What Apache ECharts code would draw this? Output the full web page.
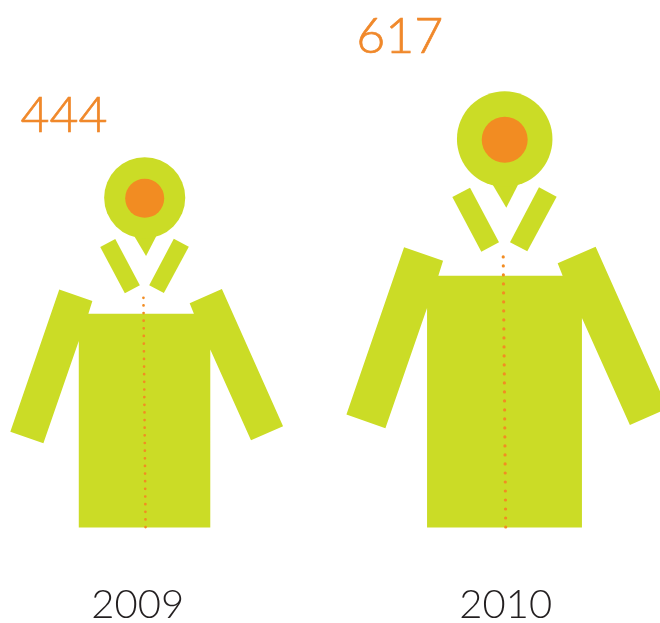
<!DOCTYPE html>
<html>
<head>
<meta charset="utf-8">
<title>2009 - 2010</title>
<script src="https://cdn.jsdelivr.net/npm/echarts@6/dist/echarts.min.js"></script>
<style>
html, body { margin: 0; padding: 0; background: #fff; overflow: hidden; }
#main { width: 660px; height: 623px; }
</style>
</head>
<body>
<div id="main"></div>
<script>
var years = ["2009", "2010"];
var values = [444, 617];

var GREEN = "#cbdc26";
var ORANGE = "#f28c22";
var TEXT_ORANGE = "#f0882a";
var TEXT_DARK = "#231f20";
var FONT = "Lato, sans-serif";

// the figure, in its own units, origin at top of the head
var FIGURE_H = 436.5;
var BODY = [[-100.7,156.1],[-61.7,169.5],[-66.4,184.5],[58,184.5],[53,172.1],[91,155.5],
	[163.1,317.3],[125.3,333.8],[77.3,226.8],[77.3,436.5],[-77.7,436.5],[-77.7,216.8],
	[-119.4,337.1],[-158.4,323.5]];
var PIN = [[-11.7,94.1],[1.6,116.5],[13.6,93.1],[0,80]];
var COLLAR_L = [[-52.4,105.8],[-34.7,96.5],[-5.7,151.1],[-23.4,160.5]];
var COLLAR_R = [[34.3,96.1],[52,105.5],[22.6,160.1],[5.3,151.1]];
// value label spot relative to top of head
var LABEL_POS = [[-80.7,-16],[-105,-29]];

var AXIS_MIN = -529;

var renderFigure = function(params, api) {
	var idx = api.value(0);
	var top = api.coord([idx, api.value(1)]);
	var base = api.coord([idx, AXIS_MIN]);
	var s = (base[1] - top[1]) / FIGURE_H;
	var poly = function(points) {
		return { type: "polygon", shape: { points: points }, style: { fill: GREEN } };
	};
	return {
		type: "group",
		children: [
			{
				type: "group",
				x: top[0],
				y: top[1],
				scaleX: s,
				scaleY: s,
				children: [
					poly(BODY),
					poly(COLLAR_L),
					poly(COLLAR_R),
					poly(PIN),
					{ type: "circle", shape: { cx: 0, cy: 47.8, r: 47.8 }, style: { fill: GREEN } },
					{ type: "circle", shape: { cx: 0, cy: 48.5, r: 23 }, style: { fill: ORANGE } },
					{
						type: "line",
						shape: { x1: 1, y1: 436, x2: -1.5, y2: 164 },
						style: { stroke: ORANGE, lineWidth: 3.2, lineCap: "round", lineDash: [0.01, 9] }
					}
				]
			},
			{
				type: "text",
				x: top[0] + LABEL_POS[idx][0],
				y: top[1] + LABEL_POS[idx][1],
				style: {
					text: String(api.value(1)),
					fill: TEXT_ORANGE,
					stroke: TEXT_ORANGE,
					lineWidth: 0.7,
					font: "300 50px " + FONT,
					textAlign: "center",
					textVerticalAlign: "bottom"
				}
			}
		]
	};
};

var chart = echarts.init(document.getElementById("main"));
chart.setOption({
	animation: false,
	backgroundColor: "#fff",
	grid: { left: -35.3, top: 0, width: 720, height: 527.5, outerBoundsMode: "none" },
	xAxis: {
		type: "category",
		data: years,
		axisLine: { show: false },
		axisTick: { show: false },
		axisLabel: {
			margin: 58,
			interval: 0,
			fontFamily: FONT,
			fontWeight: 300,
			fontSize: 40,
			color: TEXT_DARK,
			formatter: function(v) {
				return v == "2009" ? "{a|" + v + "}" : "{b|" + v + "}";
			},
			rich: {
				a: { fontFamily: FONT, fontWeight: 300, fontSize: 40, color: TEXT_DARK, padding: [0, 14, 0, 0] },
				b: { fontFamily: FONT, fontWeight: 300, fontSize: 40, color: TEXT_DARK, padding: [0, 0, 0, 2] }
			}
		}
	},
	yAxis: { type: "value", show: false, min: AXIS_MIN, max: 857, splitLine: { show: false } },
	series: [
		{
			type: "custom",
			silent: true,
			clip: false,
			renderItem: renderFigure,
			data: values.map(function(v, i) {
				return [i, v];
			})
		}
	]
});
</script>
</body>
</html>
